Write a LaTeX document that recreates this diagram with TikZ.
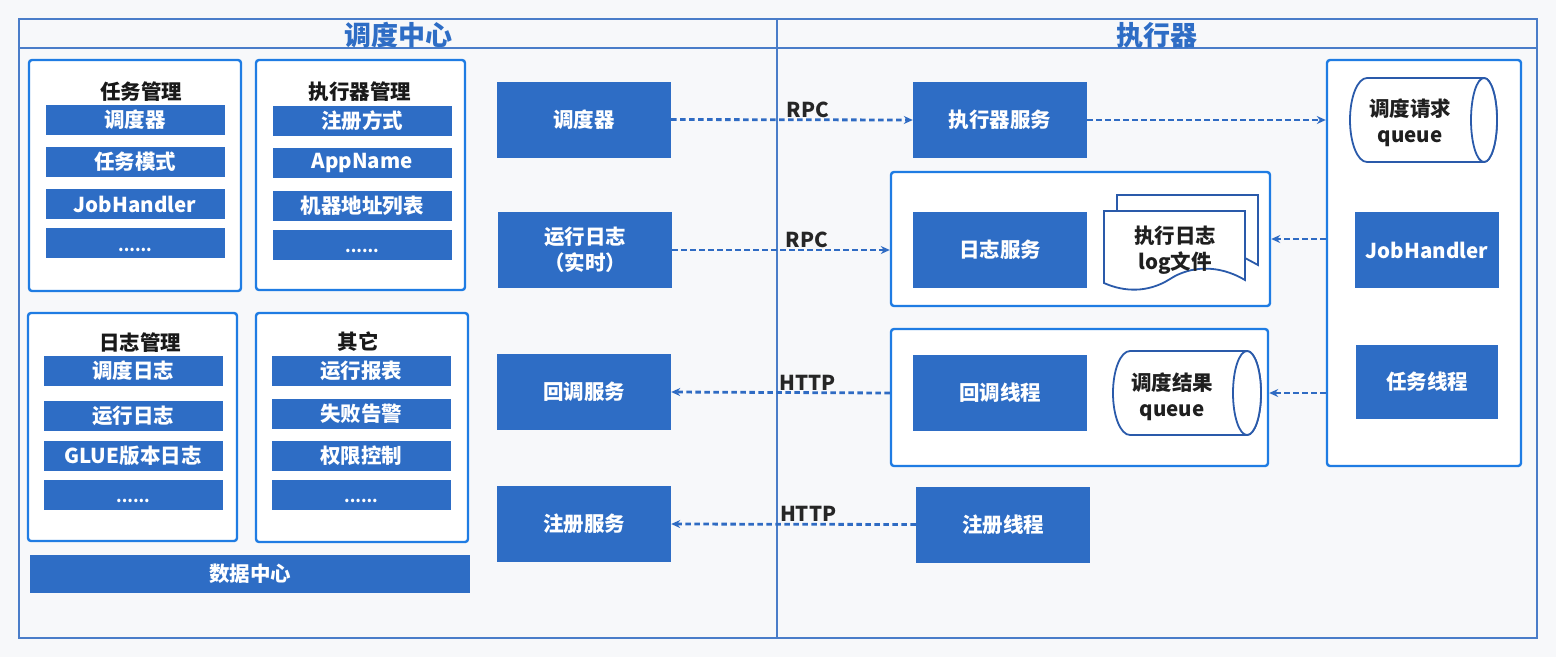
\documentclass[tikz,border=0pt]{standalone}
\usepackage{fontspec}
\setmainfont{Noto Sans CJK SC}
\usetikzlibrary{arrows.meta}
\definecolor{bgcol}{HTML}{F7F8FA}
\definecolor{boxblue}{HTML}{2E6DC5}
\definecolor{panelblue}{HTML}{1F7CE3}
\definecolor{framecol}{HTML}{4A7DC9}
\definecolor{flowblue}{HTML}{2F6BC3}
\definecolor{edgeblue}{HTML}{2A5AAA}
\newcommand{\moredots}{\raisebox{-8pt}[0pt][0pt]{\fontsize{16}{16}\selectfont ......}}
\begin{document}
\begin{tikzpicture}
  [x=1pt,y=-1pt,
   frame/.style={draw=framecol,line width=1.4pt},
   headtxt/.style={text=boxblue,font=\fontsize{27}{30}\selectfont\bfseries,inner sep=0pt},
   panel/.style={draw=panelblue,fill=white,line width=2.4pt,rounded corners=3pt,inner sep=0pt},
   ptitle/.style={font=\fontsize{20.5}{24}\selectfont\bfseries,text=black!90,inner sep=0pt},
   item/.style={fill=boxblue,text=white,font=\fontsize{20.5}{24}\selectfont\bfseries,
     minimum width=179pt,minimum height=30pt,inner sep=0pt},
   bigbox/.style={fill=boxblue,text=white,font=\fontsize{20.5}{26}\selectfont\bfseries,
     minimum width=174pt,minimum height=76pt,inner sep=0pt,align=center},
   darktxt/.style={font=\fontsize{20.5}{26}\selectfont\bfseries,text=black!88,inner sep=0pt,align=center},
   shapeline/.style={draw=edgeblue,fill=white,line width=1.8pt},
   flow/.style={draw=flowblue,line width=2.8pt,dash pattern=on 5.5pt off 3.5pt,
     -{Stealth[length=9pt,width=8pt]}},
   lbl/.style={font=\fontsize{20.5}{24}\selectfont\bfseries,text=black!85,above,inner sep=1pt}]

  % canvas and frame
  \fill[bgcol] (0,0) rectangle (1556,657);
  \useasboundingbox (0,0) rectangle (1556,657);
  \draw[frame] (19,19) rectangle (1537,638);
  \draw[frame] (19,48) -- (1537,48);
  \draw[frame] (777,19) -- (777,638);
  \node[headtxt] (hleft) at (398,35) {调度中心};
  \node[headtxt] (hright) at (1157,35) {执行器};

  % left panels
  \node[panel,minimum width=212pt,minimum height=231pt] (p1) at (135,175.5) {};
  \node[panel,minimum width=209pt,minimum height=230pt] (p2) at (360.5,175) {};
  \node[panel,minimum width=209pt,minimum height=228pt] (p3) at (132.5,427) {};
  \node[panel,minimum width=212pt,minimum height=229pt] (p4) at (362,427.5) {};
  \node[ptitle] (t1) at (141,92) {任务管理};
  \node[ptitle] (t2) at (360,92) {执行器管理};
  \node[ptitle] (t3) at (140,343) {日志管理};
  \node[ptitle] (t4) at (358,342) {其它};
  \foreach \y/\t [count=\i] in {120/调度器,162/任务模式,204/JobHandler,243/\moredots}
    \node[item] (a\i) at (135,\y) {\t};
  \foreach \y/\t [count=\i] in {121/注册方式,163/AppName,206/机器地址列表,244.5/\moredots}
    \node[item] (b\i) at (362,\y) {\t};
  \foreach \y/\t [count=\i] in {371/调度日志,415.5/运行日志,455.5/GLUE版本日志,494.5/\moredots}
    \node[item] (c\i) at (133,\y) {\t};
  \foreach \y/\t [count=\i] in {371/运行报表,413.5/失败告警,455.5/权限控制,494.5/\moredots}
    \node[item] (d\i) at (361,\y) {\t};
  \node[item,minimum width=440pt,minimum height=38pt] (data) at (250,574) {数据中心};

  % middle column
  \node[bigbox] (sched) at (584,119.5) {调度器};
  \node[bigbox] (runlog) at (585,250) {运行日志\\（实时）};
  \node[bigbox] (cbsvc) at (584,392) {回调服务};
  \node[bigbox] (regsvc) at (584,524) {注册服务};

  % executor side
  \node[bigbox] (execsvc) at (1000,120) {执行器服务};
  \node[panel,minimum width=379pt,minimum height=134pt] (logpanel) at (1080.5,239) {};
  \node[bigbox] (logsvc) at (1000,250) {日志服务};
  \draw[shapeline] (1117,211) -- (1117,195) -- (1258,195) -- (1258,265) -- (1245,258);
  \draw[shapeline] (1104,211) -- (1245,211) -- (1245,280)
    .. controls (1218,264) and (1190,266) .. (1170,279)
    .. controls (1148,293) and (1124,292) .. (1104,283) -- cycle;
  \node[darktxt] (logfile) at (1175,250) {执行日志\\log文件};

  \node[panel,minimum width=377pt,minimum height=137pt] (cbpanel) at (1079.5,397.5) {};
  \node[bigbox] (cbthread) at (1000,393) {回调线程};
  \draw[shapeline] (1130,351) -- (1247,351) arc[start angle=-90,end angle=90,x radius=14,y radius=42]
    -- (1130,435) arc[start angle=90,end angle=270,x radius=17,y radius=42] -- cycle;
  \draw[shapeline] (1247,393) ellipse[x radius=14,y radius=42];
  \node[darktxt] (resq) at (1172,397) {调度结果\\queue};

  \node[bigbox] (regthread) at (1003,524.5) {注册线程};

  \node[panel,minimum width=194pt,minimum height=406pt] (rpanel) at (1424,263) {};
  \draw[shapeline] (1367,78) -- (1484,78) arc[start angle=-90,end angle=90,x radius=13,y radius=42]
    -- (1367,162) arc[start angle=90,end angle=270,x radius=17,y radius=42] -- cycle;
  \draw[shapeline] (1484,120) ellipse[x radius=13,y radius=42];
  \node[darktxt] (reqq) at (1410,123) {调度请求\\queue};
  \node[bigbox,minimum width=144pt] (jobh) at (1427,250) {JobHandler};
  \node[bigbox,minimum width=142pt,minimum height=74pt] (taskth) at (1427,382) {任务线程};

  % connectors
  \draw[flow] (sched.east) -- node[lbl,pos=0.566] {RPC} (execsvc.west);
  \draw[flow] (runlog.east) -- node[lbl,pos=0.62] {RPC} (runlog.east -| logpanel.west);
  \draw[flow] (execsvc.east) -- (execsvc.east -| rpanel.west);
  \draw[flow] (rpanel.west |- logpanel.east) -- (logpanel.east);
  \draw[flow] (rpanel.west |- cbthread.east) -- (cbpanel.east |- cbthread.east);
  \draw[flow] (cbpanel.west |- cbthread.west) -- node[lbl,pos=0.377] {HTTP} (cbsvc.east);
  \draw[flow] (regthread.west) -- node[lbl,pos=0.44] {HTTP} (regsvc.east);

\end{tikzpicture}
\end{document}
